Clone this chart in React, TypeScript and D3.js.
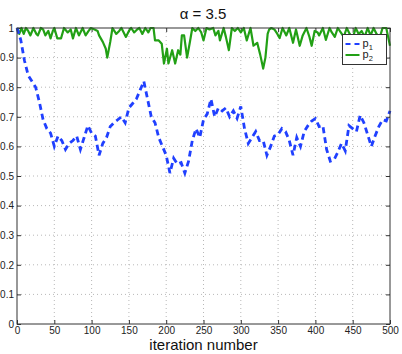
import React, { useEffect, useRef } from "react";
import * as d3 from "d3";

// p1 readings, one every 5 iterations
const p1Iter = d3.range(0, 501, 5);
const p1 = [
  1.0, 0.96, 0.89, 0.84, 0.82, 0.8, 0.75, 0.69, 0.66, 0.645,
  0.6, 0.635, 0.62, 0.59, 0.61, 0.62, 0.635, 0.59, 0.63, 0.67,
  0.645, 0.635, 0.57, 0.61, 0.63, 0.667, 0.68, 0.69, 0.7, 0.68,
  0.73, 0.745, 0.76, 0.79, 0.82, 0.76, 0.7, 0.68, 0.63, 0.6,
  0.57, 0.51, 0.56, 0.54, 0.545, 0.51, 0.55, 0.62, 0.66, 0.63,
  0.69, 0.71, 0.76, 0.7, 0.73, 0.72, 0.73, 0.7, 0.72, 0.695,
  0.735, 0.66, 0.61, 0.63, 0.65, 0.62, 0.62, 0.57, 0.6, 0.635,
  0.64, 0.66, 0.65, 0.62, 0.57, 0.63, 0.6, 0.65, 0.67, 0.686,
  0.694, 0.667, 0.67, 0.59, 0.55, 0.555, 0.58, 0.61, 0.585, 0.67,
  0.66, 0.65, 0.705, 0.68, 0.64, 0.6, 0.635, 0.667, 0.69, 0.686,
  0.72,
];

// p2 readings (iteration, value)
const p2Iter = [
  0, 3, 6, 9, 12, 15, 18, 22, 26, 28, 32, 35, 38, 42, 45, 48, 50, 54, 59, 63,
  68, 72, 75, 79, 83, 88, 92, 96, 99, 104, 108, 110, 115, 119, 121, 125, 128, 133, 137, 140,
  146, 150, 153, 157, 161, 164, 168, 172, 176, 179, 183, 185, 190, 194, 197, 201, 203, 208, 212, 216,
  219, 221, 224, 228, 232, 235, 239, 243, 247, 250, 254, 258, 263, 266, 270, 272, 277, 280, 284, 288,
  292, 296, 300, 304, 308, 313, 317, 322, 326, 330, 333, 336, 338, 341, 345, 349, 352, 356, 361, 365,
  370, 374, 379, 383, 388, 392, 395, 399, 403, 405, 410, 414, 419, 422, 426, 430, 434, 438, 442, 446,
  450, 454, 458, 462, 466, 470, 474, 478, 482, 486, 490, 495, 500,
];
const p2 = [
  1.0, 0.98, 1.0, 0.98, 1.0, 0.99, 0.975, 1.0, 0.98, 0.975, 1.0, 0.995, 0.975, 0.99, 0.965, 0.99, 1.0, 0.965, 0.965, 1.0,
  0.985, 0.995, 0.965, 1.0, 0.975, 1.0, 0.975, 0.99, 1.0, 0.995, 0.99, 0.975, 0.953, 0.93, 0.9, 0.953, 1.0, 0.98, 0.99, 1.0,
  0.97, 0.99, 1.0, 0.985, 0.995, 1.0, 0.98, 1.0, 0.985, 1.0, 1.0, 0.958, 0.958, 0.947, 0.88, 0.93, 0.88, 0.925, 0.88, 0.925,
  0.91, 0.975, 0.975, 0.9, 0.956, 1.0, 0.99, 1.0, 0.985, 0.958, 1.0, 0.995, 1.0, 0.975, 0.99, 0.958, 1.0, 0.97, 0.925, 1.0,
  0.99, 1.0, 0.985, 1.0, 0.958, 1.0, 0.94, 0.95, 0.91, 0.863, 0.9, 0.98, 0.995, 1.0, 0.995, 0.98, 0.966, 1.0, 0.975, 1.0,
  0.95, 0.995, 0.94, 0.975, 1.0, 0.97, 0.94, 0.99, 0.985, 0.975, 1.0, 0.96, 1.0, 0.985, 0.97, 1.0, 0.985, 0.97, 1.0, 0.98,
  0.965, 1.0, 0.98, 0.99, 0.97, 1.0, 0.975, 1.0, 0.98, 0.965, 1.0, 1.0, 0.94,
];

const xTicks = d3.range(0, 501, 50);
const yTicks = d3.range(0, 1.01, 0.1);
const legendLabels = ["1", "2"];

const BLUE = "#2040ff";
const GREEN = "#22a015";
const FONT = "'Liberation Sans', Arial, Helvetica, sans-serif";

const App = () => {
  const svgRef = useRef(null);

  useEffect(() => {
    const root = d3.select(svgRef.current);
    root.selectAll("*").remove();

    const W = 402;
    const H = 354;
    const margin = { top: 28, right: 12, bottom: 30, left: 17 };
    const width = W - margin.left - margin.right;
    const height = H - margin.top - margin.bottom;

    root.attr("width", W).attr("height", H);
    root.append("rect").attr("width", W).attr("height", H).attr("fill", "#fff");

    const svg = root.append("g").attr("transform", `translate(${margin.left},${margin.top})`);

    const x = d3.scaleLinear().domain([0, 500]).range([0, width]);
    const y = d3.scaleLinear().domain([0, 1]).range([height, 0]);

    // dotted grid
    svg
      .append("g")
      .selectAll("line.gx")
      .data(xTicks.slice(1, -1))
      .join("line")
      .attr("x1", (d) => x(d))
      .attr("x2", (d) => x(d))
      .attr("y1", 0)
      .attr("y2", height)
      .attr("stroke", "#b8b8b8")
      .attr("stroke-dasharray", "1 3");
    svg
      .append("g")
      .selectAll("line.gy")
      .data(yTicks.slice(1, -1))
      .join("line")
      .attr("x1", 0)
      .attr("x2", width)
      .attr("y1", (d) => y(d))
      .attr("y2", (d) => y(d))
      .attr("stroke", "#b8b8b8")
      .attr("stroke-dasharray", "1 3");

    // axes with inward ticks
    const fmt = (d) => d3.format("")(+d.toFixed(1));
    const bottom = svg
      .append("g")
      .attr("transform", `translate(0,${height})`)
      .call(d3.axisBottom(x).tickValues(xTicks).tickSize(-4).tickPadding(3).tickFormat(d3.format("d")));
    const left = svg
      .append("g")
      .call(d3.axisLeft(y).tickValues(yTicks).tickSize(-4).tickPadding(3).tickFormat(fmt));
    svg
      .append("g")
      .attr("transform", `translate(${width},0)`)
      .call(d3.axisRight(y).tickValues(yTicks).tickSize(-4).tickFormat(() => ""));
    svg
      .append("g")
      .call(d3.axisTop(x).tickValues(xTicks).tickSize(-4).tickFormat(() => ""));

    [bottom, left].forEach((a) =>
      a.selectAll("text").style("font-family", FONT).style("font-size", "10px").attr("fill", "#222")
    );
    svg.selectAll(".domain").remove();
    svg.selectAll(".tick line").attr("stroke", "#333");

    // series
    const line = d3
      .line()
      .x((d) => x(d[0]))
      .y((d) => y(d[1]));

    svg
      .append("path")
      .datum(p2Iter.map((it, i) => [it, p2[i]]))
      .attr("d", line)
      .attr("fill", "none")
      .attr("stroke", GREEN)
      .attr("stroke-width", 2.2)
      .attr("stroke-linejoin", "round");

    svg
      .append("path")
      .datum(p1Iter.map((it, i) => [it, p1[i]]))
      .attr("d", line)
      .attr("fill", "none")
      .attr("stroke", BLUE)
      .attr("stroke-width", 2.8)
      .attr("stroke-dasharray", "6 4");

    // box
    svg
      .append("rect")
      .attr("width", width)
      .attr("height", height)
      .attr("fill", "none")
      .attr("stroke", "#333")
      .attr("stroke-width", 1);

    // legend
    const lg = root.append("g").attr("transform", "translate(342.5,34.5)");
    lg.append("rect")
      .attr("width", 44)
      .attr("height", 30)
      .attr("fill", "#fff")
      .attr("stroke", "#333");
    [BLUE, GREEN].forEach((c, i) => {
      const row = lg.append("g").attr("transform", `translate(0,${9.5 + i * 11})`);
      row
        .append("line")
        .attr("x1", 3)
        .attr("x2", 17)
        .attr("stroke", c)
        .attr("stroke-width", 2)
        .attr("stroke-dasharray", i === 0 ? "5 4" : null);
      const t = row
        .append("text")
        .attr("x", 20)
        .attr("y", 3)
        .style("font-family", FONT)
        .style("font-size", "11px")
        .attr("fill", "#222")
        .text("p");
      t.append("tspan").attr("dy", 3).style("font-size", "7.5px").text(legendLabels[i]);
    });

    // title and x label
    root
      .append("text")
      .attr("x", 203)
      .attr("y", 19)
      .attr("text-anchor", "middle")
      .style("font-family", FONT)
      .style("font-size", "15px")
      .attr("fill", "#111")
      .text("\u03b1 = 3.5");

    root
      .append("text")
      .attr("x", 203.5)
      .attr("y", 350)
      .attr("text-anchor", "middle")
      .style("font-family", FONT)
      .style("font-size", "15px")
      .attr("fill", "#111")
      .text("iteration number");
  }, []);

  return (
    <div>
      <svg ref={svgRef} style={{ position: "absolute", left: 0, top: 0 }}></svg>
    </div>
  );
};

export default App;
